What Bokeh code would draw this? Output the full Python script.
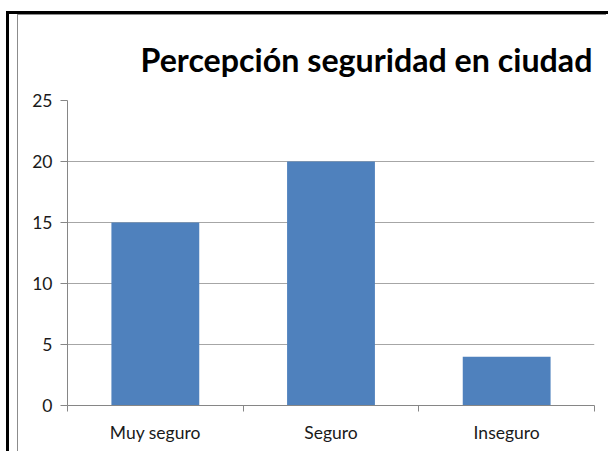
from bokeh.plotting import figure
from bokeh.models import Range1d, FixedTicker
from bokeh.layouts import column
from bokeh.embed import file_html
from bokeh.resources import INLINE

title_text = "Percepción seguridad en ciudad"
categories = ["Muy seguro", "Seguro", "Inseguro"]
values = [15, 20, 4]
y_ticks = [0, 5, 10, 15, 20, 25]

W, H = 589, 437
p = figure(width=W, height=H, x_range=Range1d(0, len(categories)), y_range=Range1d(0, 25),
           output_backend="svg", toolbar_location=None,
           min_border_left=49, min_border_right=13, min_border_top=85, min_border_bottom=47)
p.outline_line_color = None
p.background_fill_color = "white"
p.border_fill_color = "white"

p.title.text = title_text
p.title.text_font = "Lato"
p.title.text_font_style = "bold"
p.title.text_font_size = "32.2px"
p.title.text_color = "black"
p.title.align = "left"
p.title.offset = 73
p.title.standoff = 44

xs = [i + 0.5 for i in range(len(categories))]
p.vbar(x=xs, top=values, width=0.5, bottom=0, fill_color="#4F81BD", line_color=None)

grid_col = "#A6A6A6"
axis_col = "#868686"
p.xgrid.visible = False
p.ygrid.ticker = FixedTicker(ticks=y_ticks)
p.ygrid.grid_line_color = grid_col

xa = p.xaxis[0]
xa.ticker = FixedTicker(ticks=xs, minor_ticks=list(range(len(categories) + 1)))
xa.major_label_overrides = {x: c for x, c in zip(xs, categories)}
xa.major_tick_out = 0
xa.major_tick_in = 0
xa.minor_tick_out = 6
xa.minor_tick_in = 0
xa.minor_tick_line_color = axis_col
xa.axis_line_color = axis_col
xa.major_label_standoff = 10
xa.major_label_text_font = "Lato"
xa.major_label_text_font_size = "17.5px"
xa.major_label_text_color = "#1a1a1a"

ya = p.yaxis[0]
ya.ticker = FixedTicker(ticks=y_ticks)
ya.major_tick_out = 7
ya.major_tick_in = 0
ya.minor_tick_out = 0
ya.minor_tick_in = 0
ya.major_tick_line_color = axis_col
ya.axis_line_color = axis_col
ya.major_label_standoff = 8
ya.major_label_text_font = "Lato"
ya.major_label_text_font_size = "17.5px"
ya.major_label_text_color = "#1a1a1a"

# chart border decorations: gray inner frame on the figure, black outer frame on the wrapper
p.styles = {"border-left": "1px solid #8C8C8C", "border-top": "1px solid #8C8C8C"}
layout = column(p, styles={"border-left": "3px solid black", "border-top": "3px solid black",
                           "margin-left": "6px", "margin-top": "11px",
                           "padding-left": "8px", "padding-right": "2px"})

open("out.html", "w").write(file_html(layout, INLINE))
